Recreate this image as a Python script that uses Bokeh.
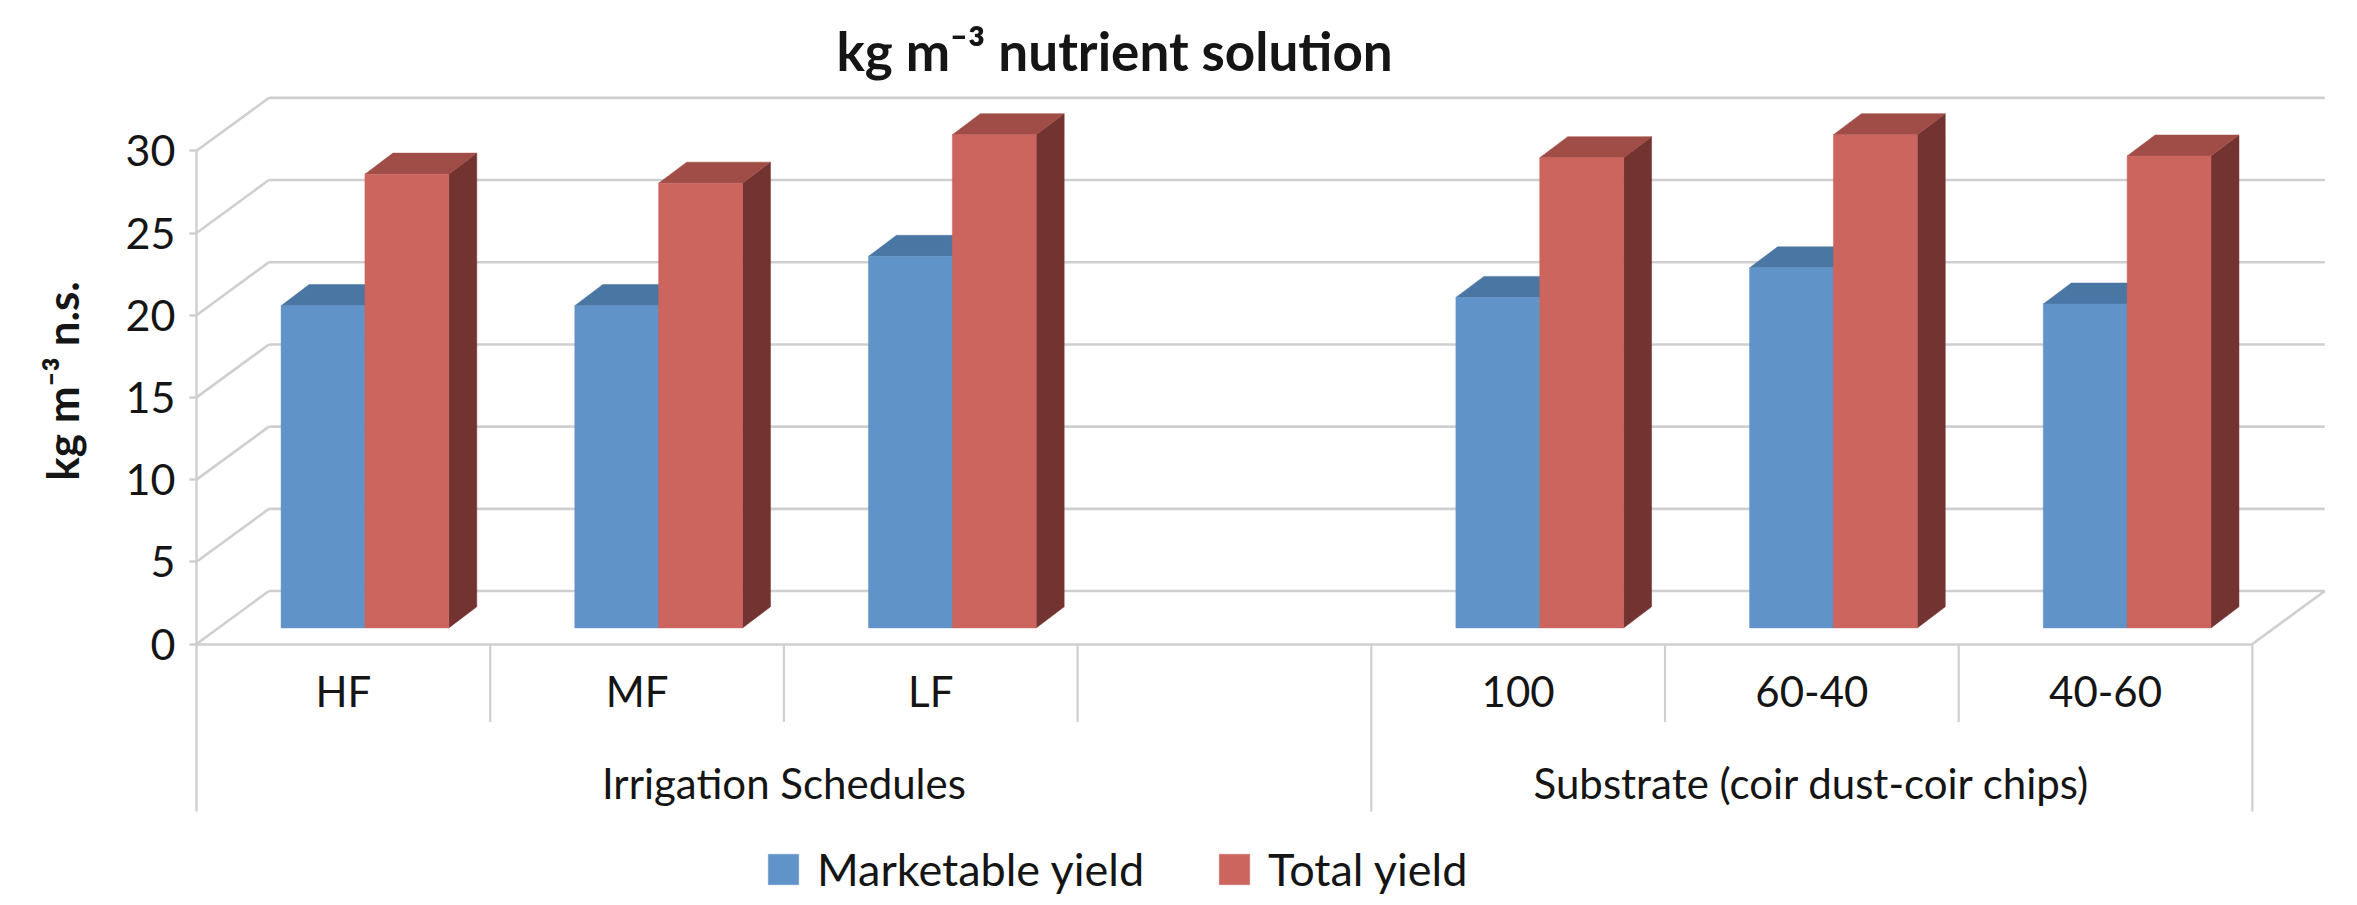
from math import pi
from bokeh.plotting import figure
from bokeh.models import FixedTicker, LinearAxis, Legend, LegendItem, Range1d, Label
from bokeh.embed import file_html
from bokeh.resources import INLINE

categories = ["HF", "MF", "LF", "", "100", "60-40", "40-60"]
groups = ["Irrigation Schedules", "Substrate (coir dust-coir chips)"]
marketable = [19.6, 19.6, 22.6, None, 20.1, 21.9, 19.7]
total = [27.6, 27.05, 30.0, None, 28.6, 30.0, 28.7]
y_ticks = [0, 5, 10, 15, 20, 25, 30]

FONT = "Lato"
GRID = "#cfcfcf"
TXT = "#151515"
B_FRONT, B_TOP, B_SIDE = "#6093c8", "#4a76a3", "#3f6690"
R_FRONT, R_TOP, R_SIDE = "#cc655e", "#a04d47", "#733330"

# geometry in data units (x: category widths, y: value units)
WALL_DX, WALL_DY = 0.2465, 3.22
BAR_OFF, BAR_W = 0.288, 0.2855
BASE = 0.98
DX, DY = 0.0953, 1.28
LOW_SHORT, LOW_LONG = -4.74, -10.2

PX_X, PX_Y = 293.7, 16.44
X0_PX = 196.0
TOP = 85
W, H = 2341, 897
xmin = -X0_PX / PX_X
xmax = (W - X0_PX) / PX_X
y0_canvas = 643.5
ymax = (y0_canvas - TOP) / PX_Y
ymin = -(H - y0_canvas) / PX_Y

p = figure(width=W, height=H, output_backend="svg", toolbar_location=None,
           x_range=Range1d(xmin, xmax), y_range=Range1d(ymin, ymax),
           min_border_left=0, min_border_right=0, min_border_top=TOP, min_border_bottom=0,
           background_fill_color="white", border_fill_color="white")
p.outline_line_color = None
p.grid.visible = False

p.title.text = "kg m\u207b\u00b3 nutrient solution"
p.title.text_font = FONT
p.title.text_font_style = "bold"
p.title.text_font_size = "53px"
p.title.text_color = TXT
p.title.align = "left"
p.title.offset = 836
p.title.standoff = 8

n = len(categories)
# back wall + side wall gridlines
wx0, wx1, wy0, wy1 = [], [], [], []
for v in y_ticks:
    wx0 += [WALL_DX, 0]
    wx1 += [n + WALL_DX, WALL_DX]
    wy0 += [v + WALL_DY, v]
    wy1 += [v + WALL_DY, v + WALL_DY]
wx0.append(n); wx1.append(n + WALL_DX); wy0.append(0); wy1.append(WALL_DY)
p.segment(wx0, wy0, wx1, wy1, line_color=GRID, line_width=2.6)

# category separators
sx, sy = [], []
for i in range(1, n + 1):
    sx.append(i)
    sy.append(LOW_LONG if i in (4, n) else LOW_SHORT)
p.segment(sx, [0] * len(sx), sx, sy, line_color=GRID, line_width=2.2)


def draw(values, off, front, top, side):
    idx = [i for i, v in enumerate(values) if v is not None]
    l = [i + off for i in idx]
    r = [a + BAR_W for a in l]
    t = [values[i] + BASE for i in idx]
    side_x = [[b, b + DX, b + DX, b] for b in r]
    side_y = [[BASE, BASE + DY, v + DY, v] for v in t]
    top_x = [[a, a + DX, b + DX, b] for a, b in zip(l, r)]
    top_y = [[v, v + DY, v + DY, v] for v in t]
    p.patches(side_x, side_y, fill_color=side, line_color=side, line_width=0.5)
    p.patches(top_x, top_y, fill_color=top, line_color=top, line_width=0.5)
    return p.quad(left=l, right=r, bottom=[BASE] * len(l), top=t, fill_color=front, line_color=front, line_width=0.5)


blue_r = draw(marketable, BAR_OFF, B_FRONT, B_TOP, B_SIDE)
red_r = draw(total, BAR_OFF + BAR_W, R_FRONT, R_TOP, R_SIDE)

# y axis
ya = p.yaxis[0]
ya.fixed_location = 0
ya.ticker = FixedTicker(ticks=y_ticks)
ya.bounds = (LOW_LONG, 30)
ya.axis_line_color = GRID
ya.axis_line_width = 2.4
ya.major_tick_line_color = GRID
ya.major_tick_line_width = 2.4
ya.major_tick_in = 0
ya.major_tick_out = 7
ya.minor_tick_line_color = None
ya.major_label_text_font = FONT
ya.major_label_text_font_size = "43px"
ya.major_label_text_color = TXT
ya.major_label_standoff = 14

p.add_layout(Label(x=-0.458, y=16.0, x_units="data", y_units="data", text="kg m\u207b\u00b3 n.s.",
                   angle=pi / 2, text_align="center", text_baseline="middle",
                   text_font=FONT, text_font_style="bold", text_font_size="44px", text_color=TXT))

# category axis
xa = p.xaxis[0]
ticks = [i + 0.5 for i, c in enumerate(categories) if c]
xa.ticker = FixedTicker(ticks=ticks)
xa.major_label_overrides = {i + 0.5: c for i, c in enumerate(categories) if c}
xa.fixed_location = 0
xa.bounds = (0, n)
xa.axis_line_color = GRID
xa.axis_line_width = 2.6
xa.major_tick_line_color = None
xa.minor_tick_line_color = None
xa.major_label_text_font = FONT
xa.major_label_text_font_size = "42px"
xa.major_label_text_color = TXT
xa.major_label_standoff = 16

# group axis
group_ticks = [2.0, 5.5]
ga = LinearAxis(ticker=FixedTicker(ticks=group_ticks),
                major_label_overrides={t: g for t, g in zip(group_ticks, groups)})
ga.fixed_location = 0
ga.axis_line_color = None
ga.major_tick_line_color = None
ga.minor_tick_line_color = None
ga.major_label_text_font = FONT
ga.major_label_text_font_size = "42px"
ga.major_label_text_color = TXT
ga.major_label_standoff = 108
p.add_layout(ga, "below")

legend = Legend(items=[LegendItem(label="Marketable yield", renderers=[blue_r]),
                       LegendItem(label="Total yield", renderers=[red_r])],
                orientation="horizontal", location=(764, 1))
legend.border_line_color = None
legend.background_fill_alpha = 0
legend.padding = 0
legend.margin = 0
legend.spacing = 71
legend.glyph_width = 38
legend.glyph_height = 38
legend.label_height = 38
legend.label_standoff = 15
legend.label_text_font = FONT
legend.label_text_font_size = "45px"
legend.label_text_color = TXT
p.add_layout(legend, "center")

open("out.html", "w").write(file_html(p, INLINE))
